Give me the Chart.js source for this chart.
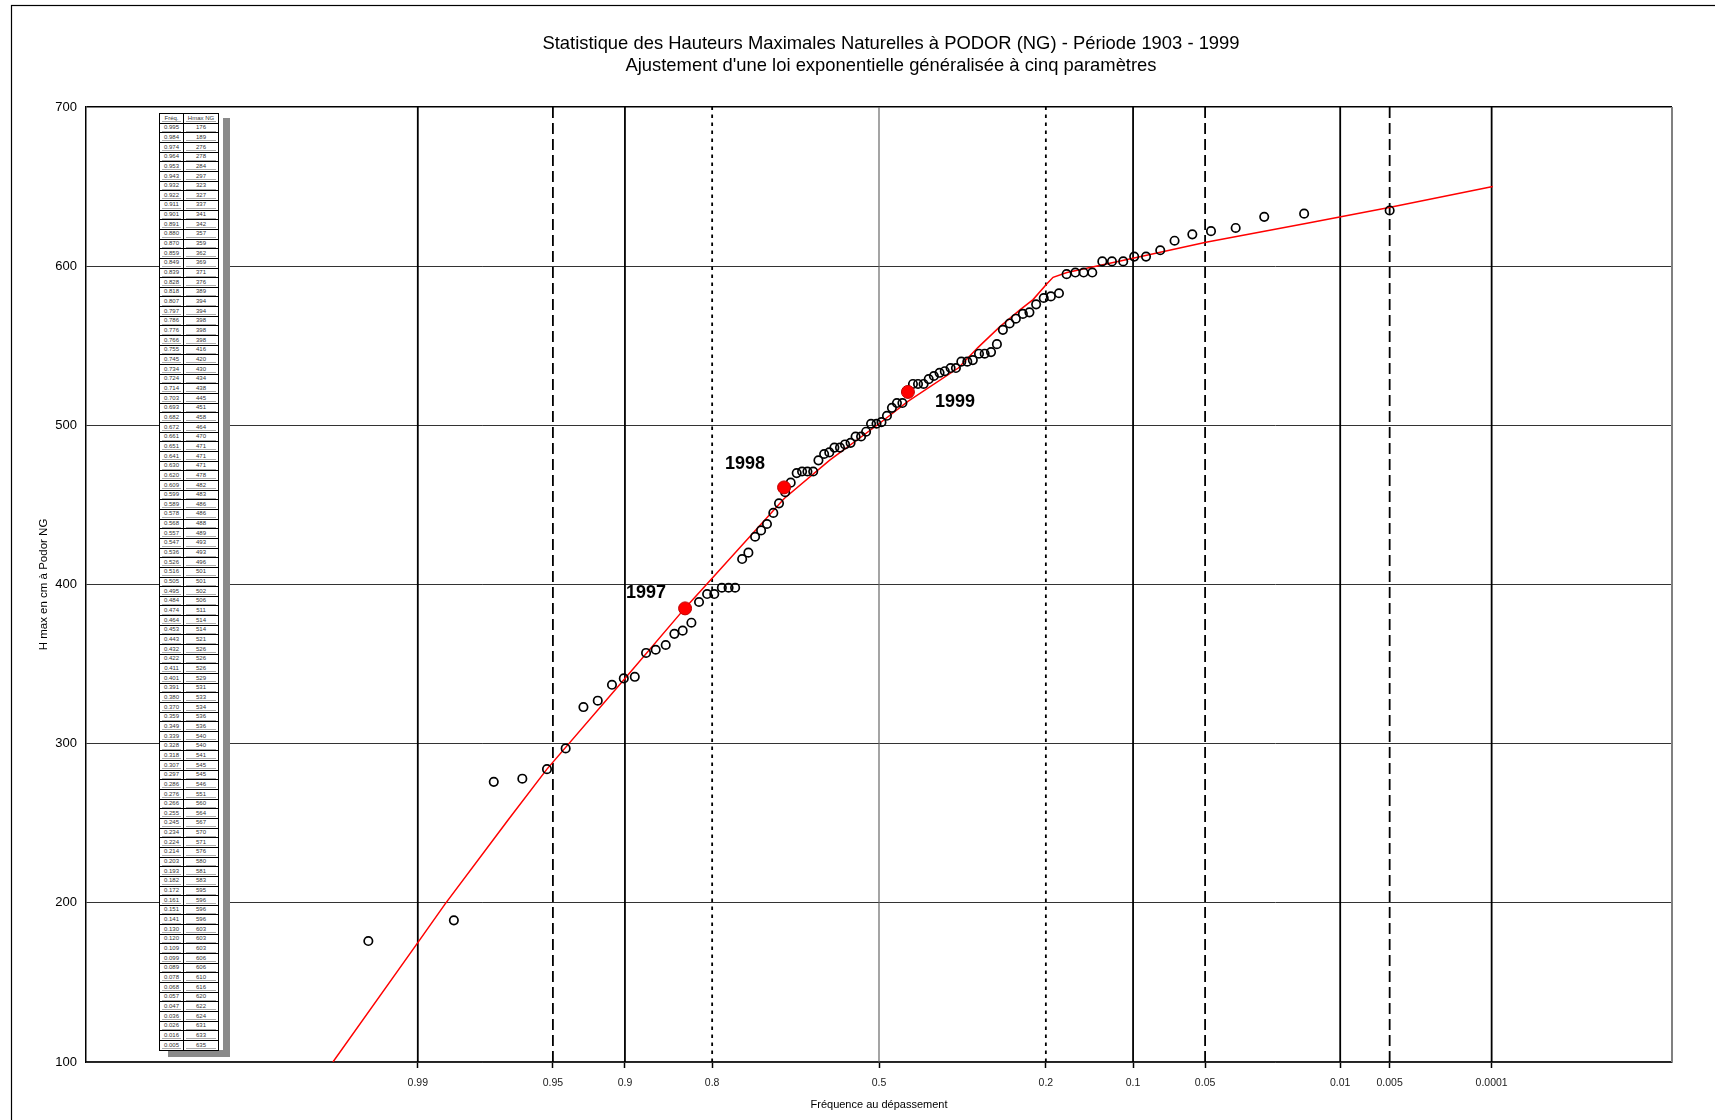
<!DOCTYPE html>
<html lang="fr">
<head>
<meta charset="utf-8">
<title>Hauteurs maximales naturelles à Podor</title>
<script src="https://cdn.jsdelivr.net/npm/chart.js@4.4.1/dist/chart.umd.min.js"></script>
<style>
  html, body { margin: 0; padding: 0; background: #fff; }
  #wrap { position: relative; width: 1715px; height: 1120px; overflow: hidden; }
  #c { position: absolute; left: 0; top: 0; }
  #tblBox { position: absolute; left: 159px; top: 113px; width: 71px; height: 944px; background: #fff; }
  #tblBox table { position: absolute; left: 0; top: 0; border-collapse: collapse; table-layout: fixed;
    font-family: "Liberation Sans", Arial, sans-serif; font-size: 6px; color: #333; }
  #tblBox td { border: 1px solid #000; padding: 0; height: 8.66px; line-height: 7px; text-align: center; overflow: hidden; white-space: nowrap; }
  #tblBox td span { display: block; margin: 0 2px; border-bottom: 1px solid #aaa; line-height: 6.5px; }
  #shadowR { position: absolute; left: 64px; top: 5px; width: 7px; height: 939px; background: #8a8a8a; }
  #shadowB { position: absolute; left: 9px; top: 937px; width: 62px; height: 7px; background: #8a8a8a; }
</style>
</head>
<body>
<div id="wrap">
  <canvas id="c" width="1715" height="1120"></canvas>
  <div id="tblBox">
    <div id="shadowR"></div>
    <div id="shadowB"></div>
    <table id="tbl">
      <colgroup><col style="width:24px"><col style="width:35px"></colgroup>
      <tbody id="tbody"></tbody>
    </table>
  </div>
</div>
<script>
// Observed annual maxima, sorted by exceedance frequency (Hazen plotting positions)
const obsFreq = [0.995,0.984,0.974,0.964,0.953,0.943,0.932,0.922,0.911,0.901,
  0.891,0.880,0.870,0.859,0.849,0.839,0.828,0.818,0.807,0.797,
  0.786,0.776,0.766,0.755,0.745,0.734,0.724,0.714,0.703,0.693,
  0.682,0.672,0.661,0.651,0.641,0.630,0.620,0.609,0.599,0.589,
  0.578,0.568,0.557,0.547,0.536,0.526,0.516,0.505,0.495,0.484,
  0.474,0.464,0.453,0.443,0.432,0.422,0.411,0.401,0.391,0.380,
  0.370,0.359,0.349,0.339,0.328,0.318,0.307,0.297,0.286,0.276,
  0.266,0.255,0.245,0.234,0.224,0.214,0.203,0.193,0.182,0.172,
  0.161,0.151,0.141,0.130,0.120,0.109,0.099,0.089,0.078,0.068,
  0.057,0.047,0.036,0.026,0.016,0.005];
const obsHmax = [176,189,276,278,284,297,323,327,337,341,
  342,357,359,362,369,371,376,389,394,394,
  398,398,398,416,420,430,434,438,445,451,
  458,464,470,471,471,471,478,482,483,486,
  486,488,489,493,493,496,501,501,502,506,
  511,514,514,521,526,526,526,529,531,533,
  534,536,536,540,540,541,545,545,546,551,
  560,564,567,570,571,576,580,581,583,595,
  596,596,596,603,603,603,606,606,610,616,
  620,622,624,631,633,635];

// Recent years highlighted
const yearNames = ['1997', '1998', '1999'];
const yearFreq  = [0.836, 0.684, 0.442];
const yearHmax  = [385, 461, 521];

// Fitted generalised exponential law (five parameters)
const fitFreq = [0.99706,0.99,0.98574,0.96933,0.95303,0.90,0.83646,0.80,0.68367,0.59871,
  0.50,0.442,0.34458,0.30854,0.27093,0.23855,0.21858,0.19849,0.18997,0.17156,
  0.10009,0.04958,0.01543,0.00523,0.00098];
const fitHmax = [100,175,199,252,284,341,385,404,454,478,
  501,515,536,549,562,572.5,579,589,593,596,
  605,615,627,636.5,650];

// Frequency reference lines on the probability axis
const tickFreq   = [0.99, 0.95, 0.9, 0.8, 0.5, 0.2, 0.1, 0.05, 0.01, 0.005, 0.001];
const tickLabels = ['0.99','0.95','0.9','0.8','0.5','0.2','0.1','0.05','0.01','0.005','0.0001'];
const tickKinds  = ['solid','dashed','solid','dotted','light','dotted','solid','dashed','solid','dashed','solid'];

const yTicks = [100, 200, 300, 400, 500, 600, 700];

const lineKinds = {
  solid:  { color: '#000', width: 1.8, dash: [] },
  dashed: { color: '#000', width: 1.8, dash: [11, 5] },
  dotted: { color: '#000', width: 1.8, dash: [3.5, 4.5] },
  light:  { color: '#5a5a5a', width: 1.1, dash: [] }
};

// Inverse of the standard normal CDF (Acklam's rational approximation)
function probit(p) {
  const a = [-3.969683028665376e+01, 2.209460984245205e+02, -2.759285104469687e+02, 1.383577518672690e+02, -3.066479806614716e+01, 2.506628277459239e+00];
  const b = [-5.447609879822406e+01, 1.615858368580409e+02, -1.556989798598866e+02, 6.680131188771972e+01, -1.328068155288572e+01];
  const c = [-7.784894002430293e-03, -3.223964580411365e-01, -2.400758277161838e+00, -2.549732539343734e+00, 4.374664141464968e+00, 2.938163982698783e+00];
  const d = [7.784695709041462e-03, 3.224671290700398e-01, 2.445134137142996e+00, 3.754408661907416e+00];
  const pl = 0.02425, ph = 1 - pl;
  let q, r;
  if (p < pl) {
    q = Math.sqrt(-2 * Math.log(p));
    return (((((c[0]*q+c[1])*q+c[2])*q+c[3])*q+c[4])*q+c[5]) / ((((d[0]*q+d[1])*q+d[2])*q+d[3])*q+1);
  }
  if (p > ph) {
    q = Math.sqrt(-2 * Math.log(1 - p));
    return -(((((c[0]*q+c[1])*q+c[2])*q+c[3])*q+c[4])*q+c[5]) / ((((d[0]*q+d[1])*q+d[2])*q+d[3])*q+1);
  }
  q = p - 0.5; r = q * q;
  return (((((a[0]*r+a[1])*r+a[2])*r+a[3])*r+a[4])*r+a[5])*q / (((((b[0]*r+b[1])*r+b[2])*r+b[3])*r+b[4])*r+1);
}
// Exceedance frequency -> position on the normal probability axis
const freqToX = f => probit(1 - f);

// Data table in the upper-left corner
(function buildTable() {
  const tb = document.getElementById('tbody');
  const head = document.createElement('tr');
  head.innerHTML = '<td><span>Fréq.</span></td><td><span>Hmax NG</span></td>';
  tb.appendChild(head);
  obsFreq.forEach((f, i) => {
    const tr = document.createElement('tr');
    tr.innerHTML = '<td><span>' + f.toFixed(3) + '</span></td><td><span>' + obsHmax[i] + '</span></td>';
    tb.appendChild(tr);
  });
})();

const FONT = '"Liberation Sans", Arial, sans-serif';

const refLineSets = tickFreq.map((f, i) => {
  const k = lineKinds[tickKinds[i]];
  return {
    type: 'line',
    label: 'ref ' + tickLabels[i],
    data: [{ x: freqToX(f), y: yTicks[0] }, { x: freqToX(f), y: yTicks[yTicks.length - 1] }],
    borderColor: k.color,
    borderWidth: k.width,
    borderDash: k.dash,
    pointRadius: 0,
    fill: false,
    order: 10
  };
});

const textPlugin = {
  id: 'textPlugin',
  afterDatasetsDraw(chart) {
    const ctx = chart.ctx;
    const meta = chart.getDatasetMeta(0);
    const offsets = [[-39, -15], [-39, -23], [47, 10]];
    ctx.save();
    ctx.fillStyle = '#000';
    ctx.font = 'bold 18px ' + FONT;
    ctx.textAlign = 'center';
    ctx.textBaseline = 'middle';
    meta.data.forEach((pt, i) => {
      ctx.fillText(yearNames[i], pt.x + offsets[i][0], pt.y + offsets[i][1]);
    });
    ctx.restore();
  },
  afterDraw(chart) {
    const ctx = chart.ctx;
    const ca = chart.chartArea;
    ctx.save();
    // outer frame
    ctx.strokeStyle = '#000';
    ctx.lineWidth = 1.2;
    ctx.strokeRect(11.5, 5.5, 2000, 2000);
    // right edge of the plot area
    ctx.strokeStyle = '#808080';
    ctx.lineWidth = 2;
    ctx.beginPath();
    ctx.moveTo(ca.right, ca.top);
    ctx.lineTo(ca.right, ca.bottom);
    ctx.stroke();
    // titles
    ctx.fillStyle = '#000';
    ctx.textAlign = 'center';
    ctx.textBaseline = 'middle';
    ctx.font = '18.4px ' + FONT;
    ctx.fillText('Statistique des Hauteurs Maximales Naturelles à PODOR (NG) - Période 1903 - 1999', 891, 44);
    ctx.fillText("Ajustement d'une loi exponentielle généralisée à cinq paramètres", 891, 66);
    ctx.font = '11px ' + FONT;
    ctx.fillText('Fréquence au dépassement', (ca.left + ca.right) / 2, 1105);
    ctx.translate(44, (ca.top + ca.bottom) / 2);
    ctx.rotate(-Math.PI / 2);
    ctx.font = '11.5px ' + FONT;
    ctx.fillText('H max en cm à Podor NG', 0, 0);
    ctx.restore();
  }
};

new Chart(document.getElementById('c'), {
  type: 'scatter',
  data: {
    datasets: [
      {
        label: 'Années récentes',
        data: yearFreq.map((f, i) => ({ x: freqToX(f), y: yearHmax[i] })),
        backgroundColor: '#ff0000',
        borderColor: '#c00000',
        borderWidth: 1,
        pointRadius: 6.5,
        order: 0
      },
      {
        label: 'Hmax NG',
        data: obsFreq.map((f, i) => ({ x: freqToX(f), y: obsHmax[i] })),
        backgroundColor: 'rgba(255,255,255,0)',
        borderColor: '#000',
        borderWidth: 1.7,
        pointRadius: 4.2,
        order: 1
      },
      {
        type: 'line',
        label: 'Ajustement',
        data: fitFreq.map((f, i) => ({ x: freqToX(f), y: fitHmax[i] })),
        borderColor: '#ff0000',
        borderWidth: 1.5,
        pointRadius: 0,
        fill: false,
        tension: 0,
        order: 2
      },
      ...refLineSets
    ]
  },
  options: {
    responsive: false,
    animation: false,
    devicePixelRatio: 1,
    events: [],
    layout: { padding: { left: 0, right: 43, top: 107, bottom: 0 } },
    plugins: { legend: { display: false }, tooltip: { enabled: false }, title: { display: false } },
    scales: {
      x: {
        type: 'linear',
        min: -4,
        max: 4,
        afterBuildTicks(scale) { scale.ticks = tickFreq.map(f => ({ value: freqToX(f) })); },
        afterFit(scale) { scale.height = 58; },
        ticks: {
          autoSkip: false,
          maxRotation: 0,
          padding: 9,
          color: '#222',
          font: { family: FONT, size: 10.5 },
          callback: (v, i) => tickLabels[i]
        },
        grid: { drawOnChartArea: false, drawTicks: true, tickLength: 6, tickColor: '#000', tickWidth: 1.5 },
        border: { display: true, color: '#222', width: 1.5 }
      },
      y: {
        type: 'linear',
        min: yTicks[0],
        max: yTicks[yTicks.length - 1],
        afterBuildTicks(scale) { scale.ticks = yTicks.map(v => ({ value: v })); },
        afterFit(scale) { scale.width = 86; },
        ticks: {
          padding: 9,
          color: '#000',
          font: { family: FONT, size: 13 }
        },
        grid: {
          drawTicks: false,
          color: ctx => (ctx.tick && ctx.tick.value === 700) ? '#000' : '#333',
          lineWidth: ctx => (ctx.tick && ctx.tick.value === 700) ? 1.5 : 1
        },
        border: { display: true, color: '#000', width: 1.5 }
      }
    }
  },
  plugins: [textPlugin]
});
</script>
</body>
</html>
